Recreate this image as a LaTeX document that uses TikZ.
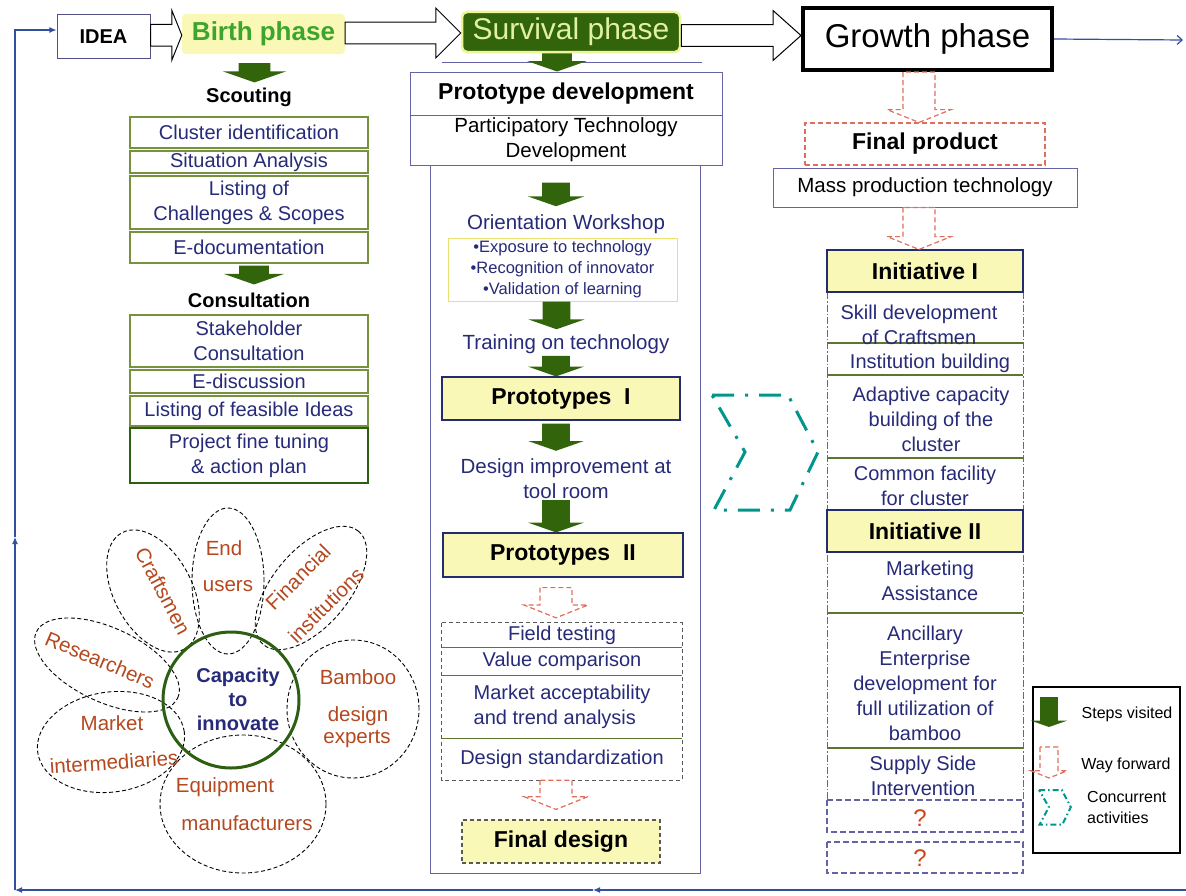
\documentclass[tikz,border=0pt]{standalone}
\usepackage{fontspec}
\setmainfont{Liberation Sans}
\usetikzlibrary{arrows.meta,calc}

\definecolor{listblue}{RGB}{38,42,120}
\definecolor{olivebox}{RGB}{118,146,60}
\definecolor{darkolive}{RGB}{45,95,18}
\definecolor{visitgreen}{RGB}{50,100,12}
\definecolor{birthgreen}{RGB}{60,165,45}
\definecolor{paleyellow}{RGB}{250,248,182}
\definecolor{glowyellow}{RGB}{238,245,150}
\definecolor{boxyellow}{RGB}{235,225,110}
\definecolor{survivaltext}{RGB}{225,240,165}
\definecolor{wayred}{RGB}{225,110,90}
\definecolor{petaltext}{RGB}{180,72,30}
\definecolor{framepurple}{RGB}{100,100,165}
\definecolor{boxnavy}{RGB}{35,45,110}
\definecolor{loopblue}{RGB}{50,80,160}
\definecolor{concurteal}{RGB}{0,150,140}
\definecolor{qred}{RGB}{200,70,30}

\newcommand{\fsz}[2]{\fontsize{#1bp}{#2bp}\selectfont}
% green block arrow: steps visited
\newcommand{\visited}[3][14]{%
  \fill[visitgreen] let \p1=(#2), \p2=(#3) in
    (\x1-#1pt,\y1) -- (\x1+#1pt,\y1) -- (\x1+#1pt,\y2+0.7*#1pt) -- (\x1+2*#1pt,\y2+0.7*#1pt)
    -- (\x1,\y2) -- (\x1-2*#1pt,\y2+0.7*#1pt) -- (\x1-#1pt,\y2+0.7*#1pt) -- cycle;}
% red dashed block arrow: way forward
\newcommand{\forward}[3][16]{%
  \draw[wayred,line width=1.2bp,dash pattern=on 5bp off 3bp,fill=white] let \p1=(#2), \p2=(#3) in
    (\x1-#1pt,\y1) -- (\x1-#1pt,\y2+0.8*#1pt) -- (\x1-2*#1pt,\y2+0.8*#1pt) -- (\x1,\y2)
    -- (\x1+2*#1pt,\y2+0.8*#1pt) -- (\x1+#1pt,\y2+0.8*#1pt) -- (\x1+#1pt,\y1) -- cycle;}
% hollow arrow between phases
\newcommand{\hollow}[3][25]{%
  \draw[line width=1bp,fill=white] let \p1=(#2), \p2=(#3), \p3=($(#2)!.5!(#3)$) in
    (\x1,\y3+11pt) -- (\x2-#1pt,\y3+11pt) -- (\x2-#1pt,\y3+25pt) -- (\x2,\y3)
    -- (\x2-#1pt,\y3-25pt) -- (\x2-#1pt,\y3-11pt) -- (\x1,\y3-11pt) -- cycle;}

\begin{document}
\begin{tikzpicture}[x=1bp,y=-1bp]
\tikzset{
  every node/.style={inner sep=0pt},
  listtext/.style={text=listblue,font=\fsz{20}{25},align=center},
  midtext/.style={listtext,font=\fsz{20.5}{25}},
  scoutbox/.style={listtext,draw=olivebox,line width=1.2bp,minimum width=238bp},
  headbox/.style={draw=framepurple,line width=1bp,minimum width=312bp,align=center},
  yellowbox/.style={draw=boxnavy,fill=paleyellow,line width=1.2bp,font=\bfseries\fsz{23}{28}},
  rowbox/.style={listtext,minimum width=240bp},
  petal/.style={line width=0.9bp,dash pattern=on 4bp off 2.5bp},
  petaltxt/.style={text=petaltext,font=\fsz{20.5}{25}},
  loopline/.style={loopblue,line width=1.2bp},
  sepline/.style={olivebox!80!black,line width=1.4bp},
  sideline/.style={framepurple,line width=0.8bp,dash pattern=on 7bp off 2bp on 1.5bp off 2bp},
  qdash/.style={framepurple,line width=1.2bp,dash pattern=on 6bp off 3bp},
  concur/.style={concurteal,line width=3bp,dash pattern=on 22bp off 11bp on 3bp off 11bp},
  legendtxt/.style={font=\fsz{16}{21}}
}
\useasboundingbox (0,0) rectangle (1186,896);

% Phases
\node[draw=framepurple!80!black,line width=1bp,minimum width=93bp,minimum height=43bp,
  font=\bfseries\fsz{20}{24}] (idea) at (103.5,36.5) {IDEA};
\node[fill=paleyellow,rounded corners=4bp,minimum width=163bp,minimum height=40bp,
  text=birthgreen,font=\bfseries\fsz{26}{30}] (birth) at (263.5,34) {Birth phase};
\node[fill=visitgreen,draw=glowyellow,line width=2.5bp,rounded corners=5bp,minimum width=218bp,
  minimum height=40bp,text=survivaltext,font=\fsz{30}{34}] (survival) at (571,32) {Survival phase};
\node[draw=black,line width=4bp,minimum width=249bp,minimum height=62bp,
  font=\fsz{33}{38}] (growth) at (927.5,39) {Growth phase};

\hollow[10]{idea.east}{birth.west}
\hollow[25]{birth.east}{survival.west}
\hollow[28]{survival.east}{growth.west}

% Birth phase column
\node[font=\bfseries\fsz{20}{24}] (scout) at (249,97) {Scouting};
\node[scoutbox,minimum height=31bp] (cluster) at (249,132.5) {Cluster identification};
\node[scoutbox,minimum height=22bp] (situation) at (249,162) {Situation Analysis};
\node[scoutbox,minimum height=53bp] (listing) at (249,202.5) {Listing of\\Challenges \& Scopes};
\node[scoutbox,minimum height=31bp] (edoc) at (249,247.5) {E-documentation};
\node[font=\bfseries\fsz{20}{24}] (consult) at (249,300) {Consultation};
\node[scoutbox,minimum height=52bp] (stake) at (249,341) {Stakeholder\\Consultation};
\node[scoutbox,minimum height=23bp] (ediscuss) at (249,381.5) {E-discussion};
\node[scoutbox,minimum height=30bp] (feasible) at (249,411) {Listing of feasible Ideas};
\node[scoutbox,draw=darkolive,line width=2bp,minimum height=55bp] (finetune) at (249,455.5)
  {Project fine tuning\\\& action plan};

\visited[16]{$(birth.south)+(-9,9)$}{$(scout.north)+(0,-5)$}
\visited[15]{$(edoc.south)+(5,2)$}{$(consult.north)+(0,-8)$}

% Survival phase column
\draw[framepurple,line width=1bp] (430,165) rectangle (700,873);
\draw[framepurple,line width=0.8bp] (442,62) -- (702,62);
\node[headbox,minimum height=43bp,font=\bfseries\fsz{23}{28}] (protodev) at (566,93.5)
  {Prototype development};
\node[headbox,minimum height=50bp,font=\fsz{20.5}{25}] (ptd) at (566,140)
  {Participatory Technology\\Development};
\visited[15]{$(survival.south)+(-14,0)$}{protodev.north}

\node[midtext] (orient) at (566,224) {Orientation Workshop};
\node[draw=boxyellow,line width=1bp,minimum width=229bp,minimum height=63bp,text=listblue,
  font=\fsz{16.5}{21},align=center] (bullets) at (562.5,269.5)
  {•Exposure to technology\\•Recognition of innovator\\•Validation of learning};
\node[midtext] (train) at (566,344) {Training on technology};
\node[yellowbox,minimum width=238bp,minimum height=43bp] (proto1) at (561,398.5) {Prototypes~~I};
\node[midtext] (design) at (566,479) {Design improvement at\\tool room};
\node[yellowbox,minimum width=240bp,minimum height=44bp] (proto2) at (563,555) {Prototypes~~II};

\node[rowbox,minimum height=24bp] (field) at (562,635) {Field testing};
\node[rowbox,minimum height=28bp] (value) at (562,661) {Value comparison};
\node[rowbox,minimum height=63bp,align=left] (market) at (562,706.5)
  {Market acceptability\\and trend analysis};
\node[rowbox,minimum height=42bp] (standard) at (562,759) {Design standardization};
\draw[gray!70!black,line width=1.2bp,dash pattern=on 4bp off 3bp]
  (field.north west) rectangle (standard.south east);
\draw[sepline] (field.south west) -- (field.south east);
\draw[sepline] (value.south west) -- (value.south east);
\draw[sepline] (market.south west) -- (market.south east);
\node[yellowbox,draw=gray!70!black,dash pattern=on 4bp off 3bp,minimum width=198bp,
  minimum height=43bp] (final) at (561,841.5) {Final design};

\visited{$(ptd.south)+(-10,17)$}{$(orient.north)+(0,-8)$}
\visited{$(bullets.south)+(-6,0)$}{$(train.north)+(0,-5)$}
\visited{$(train.south)+(-10,2)$}{proto1.north}
\visited{$(proto1.south)+(-5,3)$}{$(design.north)+(0,-8)$}
\visited{$(design.south)+(-10,1)$}{proto2.north}
\forward{$(proto2.south)+(-7,10)$}{$(field.north)+(0,-5)$}
\forward{$(standard.south)+(-6,0)$}{$(final.north)+(0,-10)$}

% Growth phase column
\draw[sideline] (827,292) -- (827,800) (1023,292) -- (1023,800);
\draw[sepline] (827,343) -- (1023,343) (827,375) -- (1023,375) (827,458) -- (1023,458)
  (827,613) -- (1023,613) (827,748) -- (1023,748);
\draw[qdash,line width=2bp] (827,800) -- (1023,800);
\draw[qdash] (827,800) rectangle (1023,832) (827,842) rectangle (1023,873);

\node[draw=wayred,line width=1.2bp,dash pattern=on 5bp off 3bp,minimum width=240bp,minimum height=42bp,
  font=\bfseries\fsz{23}{28}] (finalprod) at (925,144) {Final product};
\node[draw=framepurple,line width=1bp,minimum width=304bp,minimum height=39bp,
  font=\fsz{20.5}{25}] (massprod) at (925,187.5) {Mass production technology};
\node[yellowbox,minimum width=196bp,minimum height=42bp] (init1) at (925,271) {Initiative I};
\node[listtext] (skill) at (919,324.5) {Skill development\\of Craftsmen};
\node[listtext] (institution) at (930,363) {Institution building};
\node[listtext] (adaptive) at (931,419) {Adaptive capacity\\building of the\\cluster};
\node[listtext] (common) at (925,485.5) {Common facility\\for cluster};
\node[yellowbox,minimum width=196bp,minimum height=42bp] (init2) at (925,531) {Initiative II};
\node[listtext] (marketing) at (930,580.5) {Marketing\\Assistance};
\node[listtext] (ancillary) at (925,683)
  {Ancillary\\Enterprise\\development for\\full utilization of\\bamboo};
\node[listtext] (supply) at (923,775.5) {Supply Side\\Intervention};
\node[text=qred,font=\fsz{24}{28}] (q1) at (920,818) {?};
\node[text=qred,font=\fsz{24}{28}] (q2) at (920,858) {?};

\forward{$(growth.south)+(-8.5,0)$}{finalprod.north}
\forward{$(massprod.south)+(-6,0)$}{init1.north}

% Concurrent activities
\draw[concur] (712,395) -- (788,395) -- (818,452) -- (790,510) -- (714,510) -- (745,452) -- cycle;

% Stakeholder flower
\draw[petal,rotate around={-62:(153,591)}] (153,591) ellipse [x radius=66bp,y radius=39bp];
\draw[petal] (228,581) ellipse [x radius=36bp,y radius=73bp];
\draw[petal,rotate around={50:(311,588)}] (311,588) ellipse [x radius=74bp,y radius=38bp];
\draw[petal] (353,709) ellipse [x radius=66bp,y radius=69bp];
\draw[petal] (243,804) ellipse [x radius=83bp,y radius=69bp];
\draw[petal,rotate around={8:(111,742)}] (111,742) ellipse [x radius=74bp,y radius=50bp];
\draw[petal,rotate around={-25:(107,665)}] (107,665) ellipse [x radius=78bp,y radius=37bp];
\node[circle,draw=darkolive,line width=3bp,minimum size=136bp] (core) at (231,700) {};
\node[text=listblue,font=\bfseries\fsz{20}{24},align=center] (captext) at (238,699)
  {Capacity\\to\\innovate};

\node[petaltxt,rotate=-62] (craftsmen) at (163,591) {Craftsmen};
\node[petaltxt] (endword) at (224,548) {End};
\node[petaltxt] (users) at (228,586) {users};
\node[petaltxt,rotate=45] (financial) at (298,577) {Financial};
\node[petaltxt,rotate=45] (institutions) at (326,605) {institutions};
\node[petaltxt] (bamboo) at (358,677) {Bamboo};
\node[petaltxt] (designword) at (358,716) {design};
\node[petaltxt] (experts) at (357,739) {experts};
\node[petaltxt] (equipment) at (225,787) {Equipment};
\node[petaltxt] (manufacturers) at (247,823) {manufacturers};
\node[petaltxt] (mktword) at (112,723) {Market};
\node[petaltxt,rotate=4] (intermediaries) at (114,762) {intermediaries};
\node[petaltxt,rotate=-23] (researchers) at (100,660) {Researchers};

% Legend
\draw[line width=1.5bp] (1033,687) rectangle (1180,853);
\visited[9]{1049,697}{1049,727}
\node[legendtxt] (lsteps) at (1127,714) {Steps visited};
\forward[9]{1049,747}{1049,778}
\node[legendtxt] (lway) at (1126,765) {Way forward};
\begin{scope}[shift={(1039,790)},scale=0.3]
  \draw[concur,line width=2bp,dash pattern=on 6bp off 3bp on 1.5bp off 3bp]
    (0,0) -- (76,0) -- (106,57) -- (78,115) -- (2,115) -- (33,57) -- cycle;
\end{scope}
\node[legendtxt,align=left,anchor=west] (lconc) at (1087,807) {Concurrent\\activities};

% Feedback loop
\coordinate (topend) at (1183,40);
\coordinate (botright) at (1186,890);
\coordinate (botmid) at (593,890);
\coordinate (botleft) at (15,890);
\coordinate (leftmid) at (15,537);
\coordinate (lefttop) at (15,30);
\draw[loopline,-{Straight Barb[length=5bp,width=9bp]}] (growth.east) -- (topend);
\draw[loopline,-{Latex[length=7bp,width=6bp]}] (botright) -- (botmid);
\draw[loopline,-{Latex[length=7bp,width=6bp]}] (botmid) -- (botleft);
\draw[loopline,-{Latex[length=7bp,width=6bp]}] (botleft) -- (leftmid);
\draw[loopline,-{Latex[length=7bp,width=6bp]}] (leftmid) -- (lefttop) -- (lefttop -| idea.west);
\end{tikzpicture}
\end{document}
